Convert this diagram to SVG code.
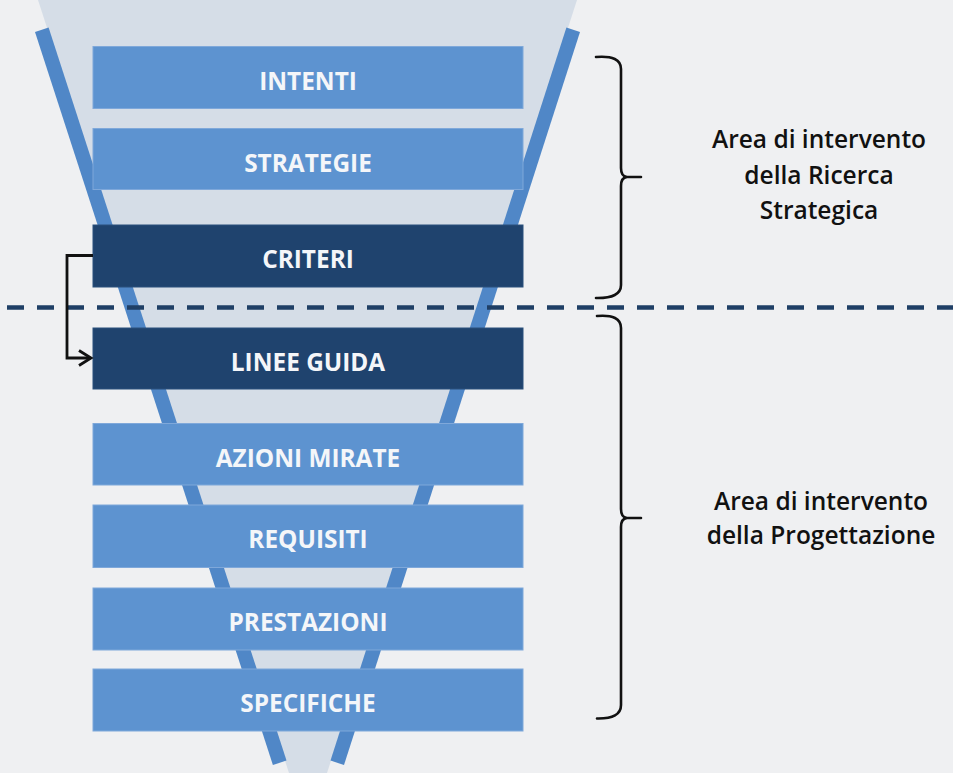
<svg xmlns="http://www.w3.org/2000/svg" width="953" height="773" viewBox="0 0 953 773">
<style>
.bg{fill:#eff0f2}
.funnel{fill:#d5dde7}
.strip{fill:#5087c7}
.box{fill:#5d93d0;stroke:#7fa8da;stroke-width:1}
.dark{fill:#1f436e;stroke:#2a507c;stroke-width:1}
.lbl{font-family:"Open Sans","Liberation Sans",sans-serif;font-weight:700;font-size:24.4px;fill:#f4f6f9;text-anchor:middle}
.area{font-family:"Open Sans","Liberation Sans",sans-serif;font-weight:600;font-size:24.5px;fill:#111;text-anchor:middle}
.brace{fill:none;stroke:#111;stroke-width:2.6;stroke-linecap:round;stroke-linejoin:round}
.conn{fill:none;stroke:#111;stroke-width:2.8}
.dash{fill:none;stroke:#1f3f66;stroke-width:4.5;stroke-dasharray:17 13}
</style>
<rect class="bg" x="0" y="0" width="953" height="773"/>
<g id="funnel">
<polygon class="funnel" points="38,0 577,0 327,773 289,773"/>
<polygon class="strip" points="35,32 48.6,27.6 286.5,760.6 272.9,765"/>
<polygon class="strip" points="580,32 566.4,27.6 330.5,760.6 344,765"/>
</g>
<g id="n-intenti"><rect class="box" x="93" y="46.5" width="430" height="62"/><text class="lbl" x="308" y="89.5">INTENTI</text></g>
<g id="n-strategie"><rect class="box" x="93" y="128.5" width="430" height="61"/><text class="lbl" x="308" y="171.5">STRATEGIE</text></g>
<g id="n-criteri"><rect class="dark" x="93" y="225" width="430" height="62"/><text class="lbl" x="308" y="268">CRITERI</text></g>
<g id="n-linee"><rect class="dark" x="93" y="328" width="430" height="61"/><text class="lbl" x="308" y="371">LINEE GUIDA</text></g>
<g id="n-azioni"><rect class="box" x="93" y="423.5" width="430" height="61.5"/><text class="lbl" x="308" y="466.5">AZIONI MIRATE</text></g>
<g id="n-requisiti"><rect class="box" x="93" y="505" width="430" height="62.5"/><text class="lbl" x="308" y="548">REQUISITI</text></g>
<g id="n-prestazioni"><rect class="box" x="93" y="588" width="430" height="62"/><text class="lbl" x="308" y="631">PRESTAZIONI</text></g>
<g id="n-specifiche"><rect class="box" x="93" y="669" width="430" height="62"/><text class="lbl" x="308" y="712">SPECIFICHE</text></g>
<g id="divider"><line class="dash" x1="7" y1="307.5" x2="953" y2="307.5"/></g>
<g id="brace-ricerca">
<path class="brace" d="M596,57 Q621,55 621,69 V168 Q621,176.5 627,177 H641 M627,177 Q621,177.5 621,186 V285 Q621,298.5 596,298"/>
<text class="area" x="819" y="148">Area di intervento</text>
<text class="area" x="819" y="184">della Ricerca</text>
<text class="area" x="819" y="219">Strategica</text>
</g>
<g id="brace-progettazione">
<path class="brace" d="M597,316 Q621,314 621,328 V509 Q621,517.5 627,518 H641 M627,518 Q621,518.5 621,527 V705 Q621,719 597,718.5"/>
<text class="area" x="821" y="510">Area di intervento</text>
<text class="area" x="821" y="543.5">della Progettazione</text>
</g>
<g id="connectors">
<path class="conn" d="M93,255.5 H67 V358 H90"/>
<path class="conn" d="M79,350.5 L91,358 L79,365.5"/>
</g>
</svg>
